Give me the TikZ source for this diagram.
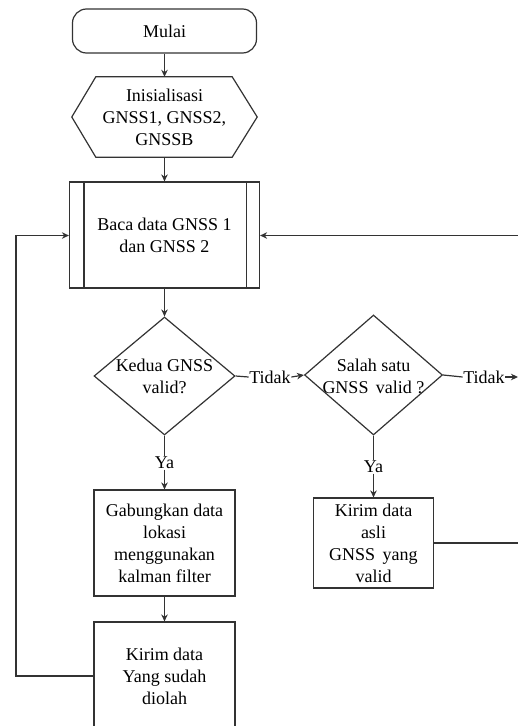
\documentclass[tikz,border=0pt]{standalone}
\usepackage{fontspec}
\setmainfont{Liberation Serif}
\usetikzlibrary{arrows.meta,shapes.geometric}
\tikzset{
  ln/.style={draw=black!80, line width=1.2pt},
  arr/.style={ln, -{Stealth[length=7pt,width=6.5pt]}},
  txt/.style={font=\fontsize{18}{22}\selectfont, align=center, text=black, inner sep=0pt},
  boxx/.style={txt, ln, rectangle, fill=white},
  dia/.style={txt, ln, diamond, fill=white},
  lbl/.style={txt, fill=white, inner sep=0.5pt},
}
\begin{document}
\begin{tikzpicture}[x=1pt,y=-1pt]
\useasboundingbox (0,0) rectangle (518,726);
\clip (0,0) rectangle (518,726);
% nodes
\node[txt, ln, rectangle, rounded corners=14pt, minimum width=184pt, minimum height=44pt] (mulai) at (164.5,31) {Mulai};
\node[txt, minimum width=185pt, minimum height=80pt] (init) at (164.5,117) {Inisialisasi\\GNSS1, GNSS2,\\GNSSB};
\draw[ln] (init.west) -- ([xshift=24pt]init.north west) -- ([xshift=-25pt]init.north east) -- (init.east)
  -- ([xshift=-25pt]init.south east) -- ([xshift=24pt]init.south west) -- cycle;
\node[boxx, minimum width=190pt, minimum height=106pt] (baca) at (164.5,235) {Baca data GNSS 1\\dan GNSS 2};
\draw[ln] ([xshift=15pt]baca.north west) -- ([xshift=15pt]baca.south west);
\draw[ln] ([xshift=-14pt]baca.north east) -- ([xshift=-14pt]baca.south east);
\node[dia, minimum width=141pt, minimum height=118pt, aspect=1.2, inner sep=0pt] (d1) at (164.5,376) {};
\node[txt] at (164.5,376) {Kedua GNSS\\valid?};
\node[dia, minimum width=138pt, minimum height=120pt, aspect=1.15, inner sep=0pt] (d2) at (373.5,375) {};
\node[txt] at (373.5,376) {Salah satu\\GNSS\, valid ?};
\node[boxx, minimum width=141pt, minimum height=106pt] (gab) at (164.5,543) {Gabungkan data\\lokasi\\menggunakan\\kalman filter};
\node[boxx, minimum width=141pt, minimum height=108pt] (kirim1) at (164.5,676) {Kirim data\\Yang sudah\\diolah};
\node[boxx, minimum width=120pt, minimum height=90pt] (kirim2) at (373.5,543) {Kirim data\\asli\\GNSS\, yang\\valid};
% labels
\node[lbl] (t1) at (270,377) {Tidak};
\node[lbl] (t2) at (484,377) {Tidak};
\node[lbl] (y1) at (164.5,463) {Ya};
\node[lbl] (y2) at (373.5,467) {Ya};
% free ends
\coordinate (rin) at (518,235.5);
\coordinate (rout1) at (518,377);
\coordinate (rout2) at (518,543);
\coordinate (lc1) at (16,676);
\coordinate (lc2) at (16,235.5);
% connectors
\draw[arr] (mulai.south) -- (init.north);
\draw[arr] (init.south) -- (baca.north);
\draw[arr] (baca.south) -- (d1.north);
\draw[ln] (d1.east) -- (t1.west);
\draw[arr] (t1.east) -- (d2.west);
\draw[ln] (d2.east) -- (t2.west);
\draw[arr] (t2.east) -- (rout1);
\draw[ln] (d1.south) -- (y1.north);
\draw[arr] (y1.south) -- (gab.north);
\draw[ln] (d2.south) -- (y2.north);
\draw[arr] (y2.south) -- (kirim2.north);
\draw[arr] (gab.south) -- (kirim1.north);
\draw[arr] (kirim1.west) -- (lc1) -- (lc2) -- (baca.west |- lc2);
\draw[arr] (rin) -- (baca.east |- rin);
\draw[ln] (kirim2.east) -- (rout2);
\end{tikzpicture}
\end{document}
